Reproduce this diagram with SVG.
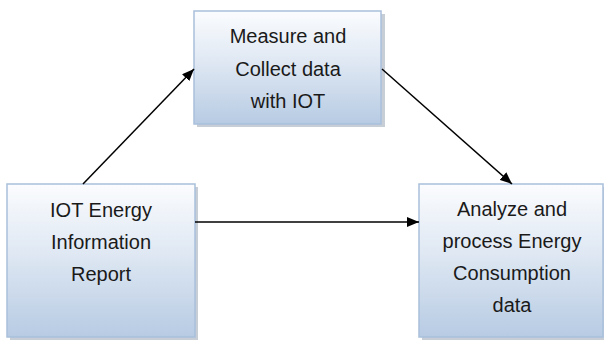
<svg xmlns="http://www.w3.org/2000/svg" width="604" height="340" viewBox="0 0 604 340">
  <defs>
    <linearGradient id="boxFill" x1="0" y1="0" x2="0" y2="1">
      <stop offset="0" stop-color="#fbfcfe"/>
      <stop offset="0.45" stop-color="#dfe8f3"/>
      <stop offset="1" stop-color="#b7cbe3"/>
    </linearGradient>
    <marker id="arrow" viewBox="0 0 12 10" refX="12" refY="5" markerWidth="12" markerHeight="10" markerUnits="userSpaceOnUse" orient="auto">
      <path d="M0,0 L12,5 L0,10 Z" fill="#000"/>
    </marker>
  </defs>
  <style>
    .shadow { fill: #9aa6b4; opacity: 0.55; }
    .box { fill: url(#boxFill); stroke: #a9c0dc; stroke-width: 1.5; }
    .label { font-family: "Liberation Sans", Arial, sans-serif; font-size: 20px; fill: #1a1a1a; text-anchor: middle; }
    .edge { stroke: #000; stroke-width: 1.5; fill: none; marker-end: url(#arrow); }
  </style>
  <rect width="604" height="340" fill="#fff"/>

  <g id="measure">
    <rect class="shadow" x="197" y="14" width="188" height="113"/>
    <rect class="box" x="194" y="11" width="187" height="113"/>
    <text class="label" x="288" y="43">Measure and</text>
    <text class="label" x="288" y="76">Collect data</text>
    <text class="label" x="288" y="108">with IOT</text>
  </g>

  <g id="report">
    <rect class="shadow" x="10" y="187" width="188" height="153"/>
    <rect class="box" x="7" y="184" width="188" height="153"/>
    <text class="label" x="101" y="217">IOT Energy</text>
    <text class="label" x="101" y="249">Information</text>
    <text class="label" x="101" y="281">Report</text>
  </g>

  <g id="analyze">
    <rect class="shadow" x="422" y="187" width="184" height="153"/>
    <rect class="box" x="419" y="184" width="184" height="153"/>
    <text class="label" x="512" y="216">Analyze and</text>
    <text class="label" x="512" y="248">process Energy</text>
    <text class="label" x="512" y="280">Consumption</text>
    <text class="label" x="512" y="312">data</text>
  </g>

  <g id="connectors">
    <line class="edge" x1="83" y1="184" x2="194" y2="69"/>
    <line class="edge" x1="382" y1="69" x2="512" y2="184"/>
    <line class="edge" x1="195" y1="222" x2="419" y2="222"/>
  </g>
</svg>
